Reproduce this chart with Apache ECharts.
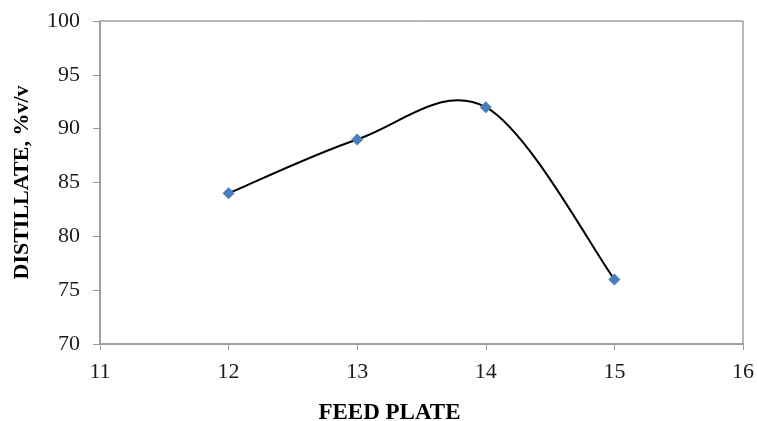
<!DOCTYPE html>
<html>
<head>
<meta charset="utf-8">
<script src="https://cdn.jsdelivr.net/npm/echarts@6/dist/echarts.min.js"></script>
<style>
  html, body { margin: 0; padding: 0; background: #fff; }
  #chart { width: 757px; height: 421px; }
</style>
</head>
<body>
<div id="chart"></div>
<script>
  // feed plate vs distillate yield
  const feedPlate = [12, 13, 14, 15];
  const distillate = [84, 89, 92, 76];
  const xTicks = [11, 12, 13, 14, 15, 16];
  const yTicks = [70, 75, 80, 85, 90, 95, 100];

  const chart = echarts.init(document.getElementById('chart'));
  const serif = '"Liberation Serif", "DejaVu Serif", serif';

  // spreadsheet style smoothed line (catmull-rom -> bezier), in pixel space
  function smoothPath(api) {
    const pts = feedPlate.map((x, i) => api.coord([x, distillate[i]]));
    let d = 'M' + pts[0][0] + ' ' + pts[0][1];
    for (let i = 0; i < pts.length - 1; i++) {
      const p0 = pts[i - 1] || pts[i];
      const p1 = pts[i];
      const p2 = pts[i + 1];
      const p3 = pts[i + 2] || p2;
      const c1 = [p1[0] + (p2[0] - p0[0]) / 6, p1[1] + (p2[1] - p0[1]) / 6];
      const c2 = [p2[0] - (p3[0] - p1[0]) / 6, p2[1] - (p3[1] - p1[1]) / 6];
      d += ' C' + c1.join(' ') + ' ' + c2.join(' ') + ' ' + p2.join(' ');
    }
    return d;
  }

  const axisGrey = '#9a9a9a';

  const option = {
    animation: false,
    grid: {
      left: 100, right: 14, top: 21, bottom: 77,
      outerBoundsMode: 'none',
      containLabel: false,
      show: true,
      borderColor: '#6e6e6e',
      borderWidth: 1
    },
    xAxis: {
      type: 'value',
      min: xTicks[0],
      max: xTicks[xTicks.length - 1],
      interval: 1,
      name: 'FEED PLATE',
      nameLocation: 'middle',
      nameGap: 58,
      nameTextStyle: {
        fontFamily: serif, fontWeight: 'bold', fontSize: 23, color: '#000',
        padding: [0, 64, 0, 0]
      },
      axisLine: { show: true, lineStyle: { color: axisGrey, width: 1.5 } },
      axisTick: { show: true, inside: false, length: 6, lineStyle: { color: axisGrey } },
      axisLabel: { fontFamily: serif, fontSize: 22, color: '#1a1a1a', margin: 17 },
      splitLine: { show: false }
    },
    yAxis: {
      type: 'value',
      min: yTicks[0],
      max: yTicks[yTicks.length - 1],
      interval: 5,
      name: 'DISTILLATE, %v/v',
      nameLocation: 'middle',
      nameGap: 67,
      nameTextStyle: { fontFamily: serif, fontWeight: 'bold', fontSize: 22, color: '#000' },
      axisLine: { show: true, lineStyle: { color: axisGrey, width: 1.5 } },
      axisTick: { show: true, inside: false, length: 7, lineStyle: { color: axisGrey } },
      axisLabel: { fontFamily: serif, fontSize: 22, color: '#1a1a1a', margin: 20 },
      splitLine: { show: false }
    },
    series: [{
      type: 'custom',
      coordinateSystem: 'cartesian2d',
      data: [[feedPlate[0], distillate[0]]],
      silent: true,
      z: 2,
      renderItem: function (params, api) {
        return {
          type: 'path',
          shape: { pathData: smoothPath(api) },
          style: { fill: null, stroke: '#000', lineWidth: 2 }
        };
      }
    }, {
      type: 'line',
      data: feedPlate.map((x, i) => [x, distillate[i]]),
      showSymbol: true,
      symbol: 'diamond',
      symbolSize: 12,
      itemStyle: { color: '#4a7ebb' },
      lineStyle: { width: 0, opacity: 0 },
      z: 3
    }]
  };

  chart.setOption(option);
</script>
</body>
</html>
